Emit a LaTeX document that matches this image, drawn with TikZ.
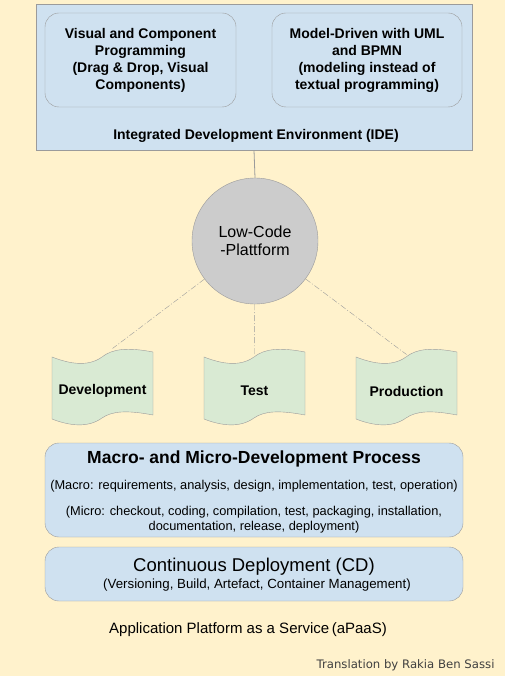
\documentclass[tikz,border=0pt]{standalone}
\usepackage{fontspec}
\setmainfont{Liberation Sans}
\newfontfamily\notefont{DejaVu Sans}
\definecolor{bgcol}{RGB}{255,242,204}
\definecolor{idecol}{RGB}{207,225,240}
\definecolor{envcol}{RGB}{217,234,211}
\definecolor{platcol}{RGB}{204,204,204}
\definecolor{edgecol}{RGB}{155,155,155}

\begin{document}
\begin{tikzpicture}[x=1pt,y=-1pt,
  panel/.style={draw=edgecol,fill=idecol,rounded corners=14pt,inner sep=0pt},
  envshape/.style={draw=edgecol,fill=envcol},
  envtext/.style={minimum width=101pt,minimum height=77pt,inner sep=0pt,outer sep=0pt,font=\fontsize{14}{17}\selectfont\bfseries},
  link/.style={edgecol,dash pattern=on 6pt off 2pt on 1pt off 2pt}]
\fill[bgcol] (0,0) rectangle (505,676);
\useasboundingbox (0,0) rectangle (505,676);
% IDE
\node[draw=edgecol,fill=idecol,minimum width=436pt,minimum height=146pt,inner sep=0pt] (ide) at (254,77) {};
\node[panel,minimum width=191pt,minimum height=94pt,align=center,font=\fontsize{14}{17}\selectfont\bfseries] (visual) at (140.5,60) {Visual and Component\\Programming\\(Drag \& Drop, Visual\\Components)};
\node[panel,minimum width=190pt,minimum height=94pt,align=center,font=\fontsize{14}{17}\selectfont\bfseries] (model) at (367,60) {Model-Driven with UML\\and BPMN\\(modeling instead of\\textual programming)};
\node[font=\fontsize{14}{17}\selectfont\bfseries] (idetext) at (256,136) {Integrated Development Environment (IDE)};
% platform
\node[draw=edgecol,fill=platcol,circle,minimum size=126pt,align=center,inner sep=0pt,font=\fontsize{16}{18}\selectfont] (lcp) at (255,241) {Low-Code\\-Plattform};
\draw[edgecol,line width=0.8pt] (ide.south) -- (lcp.north);
% environments
\foreach \nm/\xx/\lbl in {dev/52/Development,test/204/Test,prod/356/Production}{
  \draw[envshape,shift={(\xx,348)}] (0,9) .. controls (18,16) and (36,19) .. (50,9)
    .. controls (60,1) and (75,-1) .. (101,4) -- (101,67) .. controls (75,62) and (60,63) .. (50,70)
    .. controls (36,80) and (18,78) .. (0,71) -- cycle;
  \node[envtext] (\nm) at (\xx+50.5,391) {\lbl};
}
\draw[link] (lcp) -- ([xshift=10pt,yshift=4pt]dev.north);
\draw[link] (lcp) -- ([yshift=-2pt]test.north);
\draw[link] (lcp) -- ([yshift=-2pt]prod.north);
% process
\node[panel,minimum width=418pt,minimum height=94pt] (macro) at (254,490) {};
\node[font=\fontsize{17.5}{20}\selectfont\bfseries] (macrotitle) at (254,459) {Macro- and Micro-Development Process};
\node[font=\fontsize{12.8}{15}\selectfont] (macroline) at (254,486) {(Macro: requirements, analysis, design, implementation, test, operation)};
\node[font=\fontsize{12.8}{15}\selectfont,align=center] (microline) at (254,519.5) {(Micro: checkout, coding, compilation, test, packaging, installation,\\documentation, release, deployment)};
\node[panel,minimum width=418pt,minimum height=54pt] (cd) at (254,574) {};
\node[font=\fontsize{18.5}{20}\selectfont] (cdtitle) at (254,567) {Continuous Deployment (CD)};
\node[font=\fontsize{13.3}{15}\selectfont] (cdline) at (257,585) {(Versioning, Build, Artefact, Container Management)};
\node[font=\fontsize{15}{17}\selectfont] (apaas) at (248,630) {Application Platform as a Service\,(aPaaS)};
\node[font=\notefont\fontsize{11.7}{13}\selectfont,text=black!75,anchor=east] (credit) at (498,665) {Translation by Rakia Ben Sassi};
\end{tikzpicture}
\end{document}
